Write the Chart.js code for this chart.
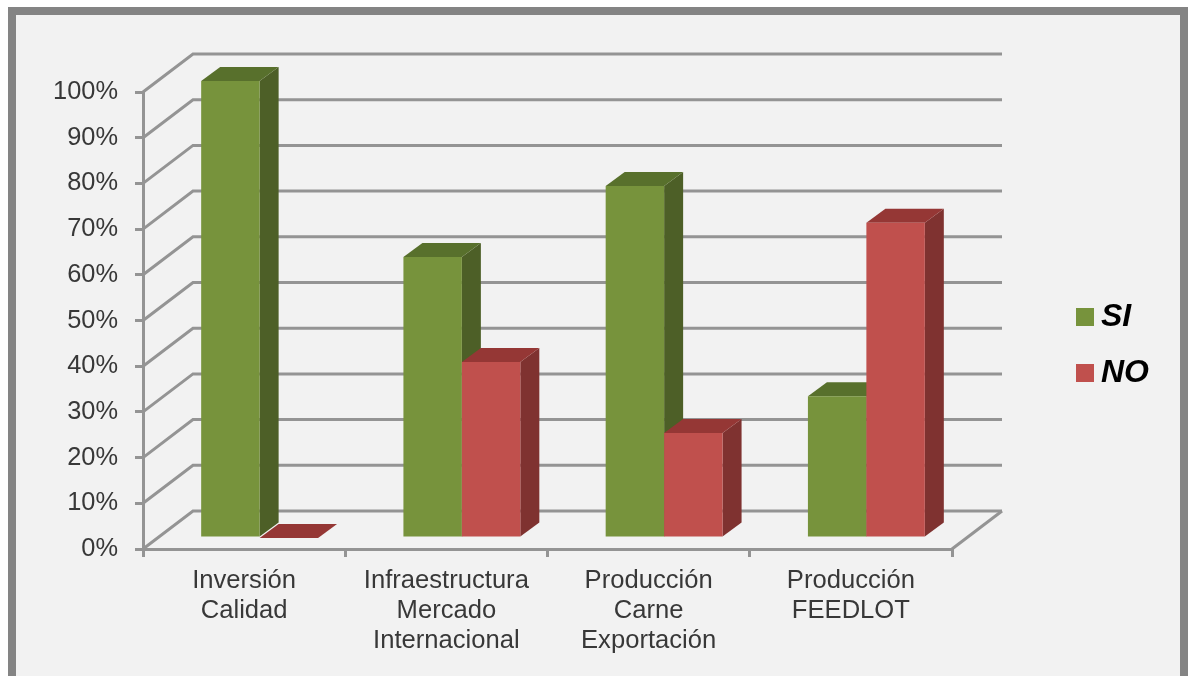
<!DOCTYPE html>
<html>
<head>
<meta charset="utf-8">
<title>SI / NO</title>
<script src="https://cdn.jsdelivr.net/npm/chart.js@4"></script>
<style>
  html, body { margin: 0; padding: 0; background: #fff; overflow: hidden; }
  #frame {
    position: absolute; left: 8px; top: 7px; width: 1164px; height: 661px;
    background: #f2f2f2; border: 8px solid #848484; border-bottom: 0;
  }
  #trend { position: absolute; left: 0; top: 0; }
</style>
</head>
<body>
<div id="frame"></div>
<canvas id="trend" width="1192" height="677"></canvas>
<script>
const categories = [
  ["Inversión", "Calidad"],
  ["Infraestructura", "Mercado", "Internacional"],
  ["Producción", "Carne", "Exportación"],
  ["Producción", "FEEDLOT"]
];
const siValues = [100, 61.5, 77, 31];
const noValues = [0, 38.5, 23, 69];
const percentTicks = [0, 10, 20, 30, 40, 50, 60, 70, 80, 90, 100];

const textFont = "'Liberation Sans', Arial, sans-serif";
const gridColor = "#949494";

// depth of the box and of the bars inside it
const wall = { dx: 50, dy: -38 };
const barShift = { dx: 15.5, dy: -11 };
const barDepth = { dx: 19, dy: -14 };

function quad(ctx, color, pts) {
  ctx.fillStyle = color;
  ctx.beginPath();
  ctx.moveTo(pts[0][0], pts[0][1]);
  for (let i = 1; i < pts.length; i++) ctx.lineTo(pts[i][0], pts[i][1]);
  ctx.closePath();
  ctx.fill();
}

const box3d = {
  id: "box3d",
  beforeDraw(chart) {
    const ctx = chart.ctx, x = chart.scales.x, y = chart.scales.y;
    ctx.save();
    ctx.strokeStyle = gridColor;
    ctx.lineWidth = 3;
    y.ticks.forEach(t => {
      const py = y.getPixelForValue(t.value);
      ctx.beginPath();
      ctx.moveTo(x.left, py);
      ctx.lineTo(x.left + wall.dx, py + wall.dy);
      ctx.lineTo(x.right + wall.dx, py + wall.dy);
      ctx.stroke();
    });
    // right edge of the floor
    ctx.beginPath();
    ctx.moveTo(x.right, y.bottom);
    ctx.lineTo(x.right + wall.dx, y.bottom + wall.dy);
    ctx.stroke();
    ctx.restore();
  },
  // series go left to right, so the later one has to paint over the earlier one's side
  beforeDatasetsDraw(chart) {
    const ctx = chart.ctx, d = barDepth;
    ctx.save();
    ctx.translate(barShift.dx, barShift.dy);
    chart.data.datasets.forEach((ds, i) => {
      const meta = chart.getDatasetMeta(i);
      meta.data.forEach(bar => {
        const l = bar.x - bar.width / 2, r = bar.x + bar.width / 2;
        quad(ctx, ds.sideColor, [[r, bar.y], [r + d.dx, bar.y + d.dy], [r + d.dx, bar.base + d.dy], [r, bar.base]]);
        quad(ctx, ds.topColor, [[l, bar.y], [l + d.dx, bar.y + d.dy], [r + d.dx, bar.y + d.dy], [r, bar.y]]);
      });
      meta.controller.draw();
    });
    ctx.restore();
  },
  beforeDatasetDraw() {
    return false;
  },
  afterDraw(chart) {
    const ctx = chart.ctx;
    ctx.save();
    ctx.font = "italic bold 32px " + textFont;
    ctx.textBaseline = "middle";
    chart.data.datasets.forEach((ds, i) => {
      const top = 308 + i * 56;
      ctx.fillStyle = ds.backgroundColor;
      ctx.fillRect(1076, top, 18, 18);
      ctx.fillStyle = "#000";
      ctx.fillText(ds.label, 1101, top + 9);
    });
    ctx.restore();
  }
};

new Chart(document.getElementById("trend"), {
  type: "bar",
  data: {
    labels: categories,
    datasets: [
      { label: "SI", data: siValues, clip: false, backgroundColor: "#77933c", sideColor: "#4d5f27", topColor: "#58702c" },
      { label: "NO", data: noValues, clip: false, backgroundColor: "#c0504d", sideColor: "#7f3230", topColor: "#953735" }
    ]
  },
  options: {
    responsive: false,
    animation: false,
    layout: { autoPadding: false, padding: { top: 92, right: 240, bottom: 0, left: 0 } },
    datasets: { bar: { categoryPercentage: 0.578, barPercentage: 1 } },
    plugins: { legend: { display: false }, tooltip: { enabled: false } },
    scales: {
      x: {
        afterFit(scale) { scale.height = 128; },
        border: { color: gridColor, width: 3 },
        grid: { drawOnChartArea: false, color: gridColor, lineWidth: 3, tickLength: 8 },
        ticks: {
          color: "#383838",
          maxRotation: 0,
          padding: 9,
          autoSkip: false,
          font: { family: textFont, size: 25.6, lineHeight: 1.17 }
        }
      },
      y: {
        min: 0,
        max: 100,
        afterFit(scale) { scale.width = 143; },
        afterBuildTicks(scale) { scale.ticks = percentTicks.map(v => ({ value: v })); },
        border: { color: gridColor, width: 3 },
        grid: { drawOnChartArea: false, color: gridColor, lineWidth: 3, tickLength: 8 },
        ticks: {
          color: "#383838",
          padding: 17,
          callback: v => v + "%",
          font: { family: textFont, size: 25.4 }
        }
      }
    }
  },
  plugins: [box3d]
});
</script>
</body>
</html>
